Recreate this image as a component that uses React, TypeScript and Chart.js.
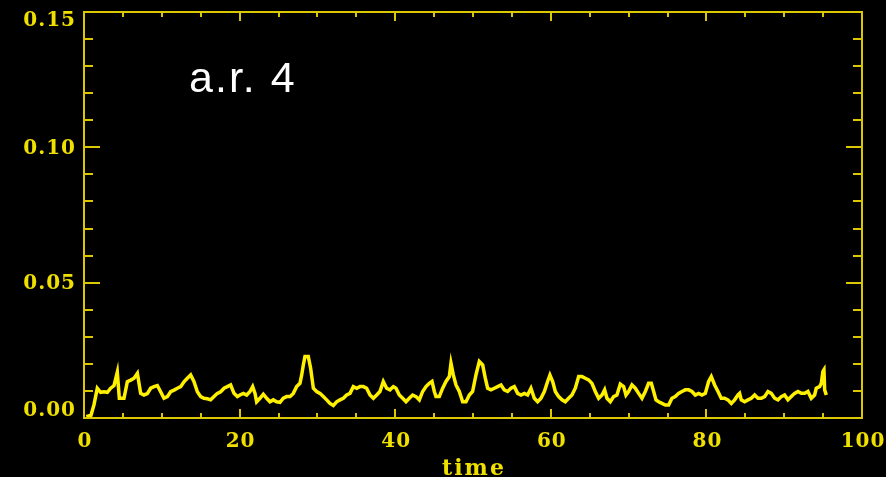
import React, { useEffect, useRef } from 'react';
import { Chart, registerables } from 'chart.js';

Chart.register(...registerables);

// [time, value] samples, split by 20-unit stretches
const trace0to20: [number, number][] = [
  [0.3, 0.0005], [0.9, 0.001], [1.29, 0.005], [1.71, 0.011], [2.14, 0.0095],
  [2.57, 0.0097], [3.0, 0.0095], [3.43, 0.011], [3.86, 0.012], [4.28, 0.0169],
  [4.54, 0.0073], [5.14, 0.0073], [5.57, 0.0134], [6.0, 0.014], [6.43, 0.0147],
  [6.86, 0.0165], [7.28, 0.0091], [7.71, 0.0085], [8.14, 0.009], [8.57, 0.011],
  [9.0, 0.0116], [9.43, 0.012], [9.85, 0.0097], [10.28, 0.0073], [10.71, 0.0079],
  [11.14, 0.0097], [11.57, 0.0103], [12.0, 0.011], [12.43, 0.0116], [12.85, 0.0134],
  [13.28, 0.0147], [13.71, 0.0159], [14.14, 0.0134], [14.57, 0.0097], [15.0, 0.0079],
  [15.42, 0.0073], [15.85, 0.0071], [16.28, 0.0067], [16.71, 0.0079], [17.14, 0.0091],
  [17.57, 0.0097], [18.0, 0.011], [18.42, 0.0116], [18.85, 0.0122], [19.28, 0.0091],
  [19.71, 0.0079],
];
const trace20to40: [number, number][] = [
  [20.05, 0.0085], [20.48, 0.0091], [20.91, 0.0085], [21.34, 0.0098], [21.68, 0.0116],
  [21.98, 0.0091], [22.19, 0.006], [22.62, 0.0073], [23.05, 0.0088], [23.48, 0.0073],
  [23.9, 0.006], [24.33, 0.0067], [24.76, 0.006], [25.19, 0.0058], [25.62, 0.0073],
  [26.05, 0.0079], [26.48, 0.0079], [26.9, 0.0091], [27.33, 0.0116], [27.76, 0.0128],
  [27.98, 0.0159], [28.19, 0.0196], [28.4, 0.0227], [28.83, 0.0227], [29.13, 0.0184],
  [29.48, 0.011], [29.9, 0.0098], [30.33, 0.0091], [30.76, 0.0079], [31.19, 0.0067],
  [31.62, 0.0054], [32.05, 0.0046], [32.47, 0.006], [32.9, 0.0067], [33.33, 0.0073],
  [33.76, 0.0085], [34.19, 0.0091], [34.62, 0.0116], [35.05, 0.011], [35.47, 0.0116],
  [35.9, 0.0116], [36.33, 0.011], [36.76, 0.0085], [37.19, 0.0073], [37.62, 0.0085],
  [38.04, 0.0098], [38.47, 0.0135], [38.9, 0.011], [39.33, 0.0104], [39.76, 0.0116],
];
const trace40to60: [number, number][] = [
  [40.1, 0.011], [40.53, 0.0085], [40.96, 0.0073], [41.39, 0.006], [41.81, 0.0073],
  [42.24, 0.0085], [42.67, 0.0079], [43.1, 0.0067], [43.53, 0.0098], [43.96, 0.0116],
  [44.38, 0.0128], [44.73, 0.0135], [45.03, 0.0098], [45.24, 0.0079], [45.67, 0.0079],
  [46.1, 0.011], [46.53, 0.0135], [46.96, 0.0153], [47.17, 0.0202], [47.47, 0.0159],
  [47.81, 0.0122], [48.24, 0.0098], [48.67, 0.006], [49.1, 0.006], [49.53, 0.0085],
  [49.95, 0.0098], [50.38, 0.0159], [50.81, 0.0209], [51.24, 0.0196], [51.58, 0.0147],
  [51.88, 0.011], [52.31, 0.0104], [52.74, 0.011], [53.17, 0.0116], [53.6, 0.0122],
  [54.02, 0.0104], [54.45, 0.0098], [54.88, 0.011], [55.31, 0.0116], [55.74, 0.0091],
  [56.17, 0.0085], [56.6, 0.0091], [57.02, 0.0085], [57.45, 0.011], [57.88, 0.0073],
  [58.31, 0.006], [58.74, 0.0073], [59.17, 0.0098], [59.59, 0.0135], [59.89, 0.0159],
];
const trace60to80: [number, number][] = [
  [60.24, 0.0135], [60.58, 0.0098], [61.01, 0.0079], [61.44, 0.0067], [61.86, 0.006],
  [62.29, 0.0073], [62.72, 0.0085], [63.15, 0.011], [63.58, 0.0153], [64.01, 0.0153],
  [64.43, 0.0147], [64.86, 0.0141], [65.29, 0.0128], [65.72, 0.0098], [66.15, 0.0073],
  [66.58, 0.0085], [66.92, 0.0104], [67.22, 0.0073], [67.65, 0.006], [68.08, 0.0079],
  [68.5, 0.0085], [68.93, 0.0125], [69.36, 0.0116], [69.66, 0.0085], [70.0, 0.0098],
  [70.43, 0.0122], [70.86, 0.011], [71.29, 0.0091], [71.72, 0.0073], [72.15, 0.0098],
  [72.57, 0.0128], [72.92, 0.0128], [73.22, 0.0098], [73.52, 0.0067], [73.86, 0.006],
  [74.29, 0.0054], [74.72, 0.0048], [75.15, 0.0048], [75.57, 0.0073], [76.0, 0.0079],
  [76.43, 0.0091], [76.86, 0.0098], [77.29, 0.0104], [77.72, 0.0104], [78.14, 0.0098],
  [78.57, 0.0085], [79.0, 0.0091], [79.43, 0.0085], [79.86, 0.0091],
];
const trace80to100: [number, number][] = [
  [80.29, 0.0135], [80.63, 0.0153], [81.06, 0.0122], [81.49, 0.0098], [81.91, 0.0073],
  [82.34, 0.0073], [82.77, 0.0067], [83.2, 0.0054], [83.63, 0.0067], [84.06, 0.0085],
  [84.27, 0.0091], [84.48, 0.0067], [84.91, 0.006], [85.34, 0.0067], [85.77, 0.0073],
  [86.2, 0.0085], [86.63, 0.0073], [87.06, 0.0073], [87.48, 0.0079], [87.91, 0.0098],
  [88.34, 0.0091], [88.77, 0.0073], [89.2, 0.0067], [89.63, 0.0079], [90.05, 0.0085],
  [90.48, 0.0067], [90.91, 0.0079], [91.34, 0.0091], [91.77, 0.0098], [92.2, 0.0091],
  [92.63, 0.0091], [93.05, 0.0098], [93.48, 0.0073], [93.91, 0.0085], [94.12, 0.011],
  [94.55, 0.0116], [94.77, 0.0128], [94.98, 0.0172], [95.11, 0.0178], [95.2, 0.0104],
  [95.41, 0.0085],
];

const xMajorTicks = [0, 20, 40, 60, 80, 100];
const xTickLabels = ['0', '20', '40', '60', '80', '100'];
const yMajorTicks = [0, 0.05, 0.1, 0.15];
const yTickLabels = ['0.00', '0.05', '0.10', '0.15'];
const xMinorCount = 20; // minor ticks every 5
const yMinorCount = 15; // minor ticks every 0.01
const xTitle = 'time';
const annotation = 'a.r. 4';

const AXIS = '#dcc800';
const LABEL = '#f0e000';
const LINE = '#fff000';
const SERIF = 'bold 20px "DejaVu Serif", "Liberation Serif", serif';
const TITLE_FONT = 'bold 22px "DejaVu Serif", "Liberation Serif", serif';

export default function App() {
  const ref = useRef<HTMLCanvasElement>(null);

  useEffect(() => {
    document.body.style.margin = '0';
    document.body.style.background = '#000';
    const points = [...trace0to20, ...trace20to40, ...trace40to60, ...trace60to80, ...trace80to100]
      .map(([x, y]) => ({ x, y }));

    const framePlugin = {
      id: 'idlFrame',
      afterDatasetsDraw(chart: any) {
        const { ctx, chartArea: a, scales } = chart;
        const xs = scales.x;
        const ys = scales.y;
        ctx.save();
        ctx.strokeStyle = AXIS;
        ctx.lineWidth = 2;
        ctx.strokeRect(a.left, a.top, a.right - a.left, a.bottom - a.top);
        ctx.beginPath();
        for (let i = 0; i <= xMinorCount; i++) {
          const v = xs.min + ((xs.max - xs.min) * i) / xMinorCount;
          const px = Math.round(xs.getPixelForValue(v));
          const len = i % 4 === 0 ? 9 : 5;
          ctx.moveTo(px, a.bottom);
          ctx.lineTo(px, a.bottom - len);
          ctx.moveTo(px, a.top);
          ctx.lineTo(px, a.top + len);
        }
        for (let i = 0; i <= yMinorCount; i++) {
          const v = ys.min + ((ys.max - ys.min) * i) / yMinorCount;
          const py = Math.round(ys.getPixelForValue(v));
          const len = i % 5 === 0 ? 16 : 9;
          ctx.moveTo(a.left, py);
          ctx.lineTo(a.left + len, py);
          ctx.moveTo(a.right, py);
          ctx.lineTo(a.right - len, py);
        }
        ctx.stroke();

        ctx.fillStyle = LABEL;
        ctx.font = SERIF;
        (ctx as any).letterSpacing = '1px';
        ctx.textAlign = 'right';
        ctx.textBaseline = 'middle';
        yMajorTicks.forEach((v, i) => {
          let py = ys.getPixelForValue(v);
          py = Math.min(Math.max(py, a.top + 8), a.bottom - 8);
          ctx.fillText(yTickLabels[i], a.left - 8, py + 1);
        });
        ctx.textAlign = 'center';
        xMajorTicks.forEach((v, i) => {
          const px = xs.getPixelForValue(v);
          ctx.fillText(xTickLabels[i], px + 1, a.bottom + 24);
        });
        ctx.font = TITLE_FONT;
        (ctx as any).letterSpacing = '2px';
        ctx.textBaseline = 'alphabetic';
        ctx.fillText(xTitle, (a.left + a.right) / 2 + 1, a.bottom + 57);

        (ctx as any).letterSpacing = '2px';
        ctx.fillStyle = '#ffffff';
        ctx.font = '43px "Liberation Sans", Arial, sans-serif';
        ctx.textAlign = 'left';
        ctx.fillText(annotation, xs.getPixelForValue(13.5), ys.getPixelForValue(0.1205));
        ctx.restore();
      },
    };

    const chart = new Chart(ref.current as HTMLCanvasElement, {
      type: 'line',
      data: {
        datasets: [
          {
            data: points,
            borderColor: LINE,
            borderWidth: 3.5,
            pointRadius: 0,
            tension: 0,
            fill: false,
            clip: 6,
          } as any,
        ],
      },
      options: {
        animation: false,
        responsive: false,
        events: [],
        layout: { padding: { left: 84, right: 24, top: 12, bottom: 59 } },
        plugins: { legend: { display: false }, tooltip: { enabled: false }, title: { display: false } },
        scales: {
          x: { type: 'linear', min: 0, max: 100, display: false },
          y: { type: 'linear', min: 0, max: 0.15, display: false },
        },
      },
      plugins: [framePlugin],
    });
    return () => chart.destroy();
  }, []);

  return (
    <div style={{ width: 886, height: 477, background: '#000', overflow: 'hidden' }}>
      <canvas ref={ref} width={886} height={477} style={{ display: 'block' }} />
    </div>
  );
}
